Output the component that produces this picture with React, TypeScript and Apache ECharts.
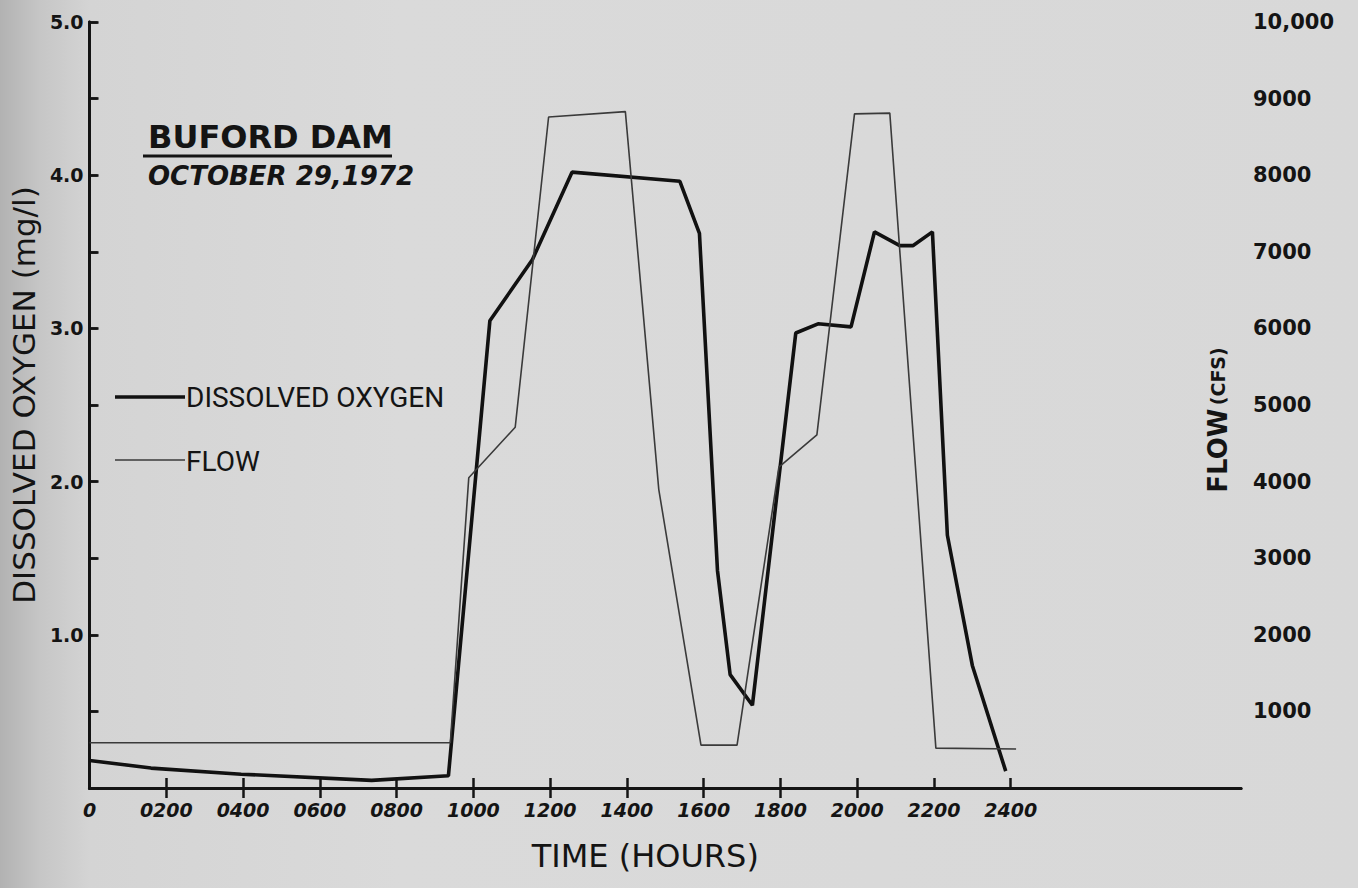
import React, { useEffect, useRef } from 'react';
import * as echarts from 'echarts';

// Time of day (hours, hhmm scale) and dissolved oxygen (mg/l)
const doHours = [0, 160, 395, 735, 935, 1043, 1154, 1257, 1538, 1589, 1636, 1669, 1727, 1840, 1898, 1984, 2045, 2111, 2145, 2196, 2235, 2300, 2387];
const doValues = [0.18, 0.13, 0.09, 0.05, 0.08, 3.05, 3.45, 4.02, 3.96, 3.62, 1.42, 0.74, 0.54, 2.97, 3.03, 3.01, 3.63, 3.54, 3.54, 3.63, 1.65, 0.8, 0.11];

// Time of day and flow (cfs)
const flowHours = [0, 940, 988, 1109, 1196, 1396, 1483, 1593, 1687, 1796, 1895, 1993, 2085, 2205, 2414];
const flowValues = [590, 590, 4050, 4710, 8760, 8830, 3900, 560, 560, 4190, 4610, 8800, 8810, 520, 510];

// Axis ticks / labels
const xLabelValues = [0, 200, 400, 600, 800, 1000, 1200, 1400, 1600, 1800, 2000, 2200, 2400];
const xBottomTicks = [200, 400, 600, 800, 1000, 1200, 1400, 1600, 1800, 2000, 2200, 2400];
const xTopTicks = [200, 400, 600, 800, 1000, 1200, 1400, 1600, 1800, 2000];
const doLabelValues = [1, 2, 3, 4, 5];
const flowLabelValues = [1000, 2000, 3000, 4000, 5000, 6000, 7000, 8000, 9000, 10000];

const INK = '#141414';
const W = 1358;
const H = 888;
const DO_WIDTH = 3.6;
const FLOW_WIDTH = 1.6;

export default function App() {
  const ref = useRef<HTMLDivElement>(null);
  useEffect(() => {
    if (!ref.current) return;
    const chart = echarts.init(ref.current, null, { renderer: 'svg', width: W, height: H });
    const axisLine = { show: true, lineStyle: { color: INK, width: 3 } };
    chart.setOption({
      animation: false,
      textStyle: { fontFamily: 'DejaVu Sans', color: INK },
      grid: { left: 89, right: 117, top: 22, bottom: 100 },
      title: {
        text: 'BUFORD DAM',
        subtext: 'OCTOBER 29,1972',
        left: 143,
        top: 116,
        itemGap: 10,
        textStyle: { fontSize: 32, fontWeight: 'bold', color: INK, fontFamily: 'DejaVu Sans' },
        subtextStyle: { fontSize: 26, fontWeight: 'bold', fontStyle: 'italic', color: INK, fontFamily: 'DejaVu Sans' },
      },
      legend: {
        left: 108,
        top: 378,
        orient: 'vertical',
        icon: 'none',
        itemWidth: 68,
        itemHeight: 24,
        itemGap: 36,
        textStyle: { fontSize: 28, fontFamily: 'Roboto', color: INK },
        data: ['DISSOLVED OXYGEN', 'FLOW'],
      },
      graphic: [
        { type: 'line', shape: { x1: 143, y1: 156, x2: 392, y2: 156 }, style: { stroke: INK, lineWidth: 3 } },
        { type: 'line', shape: { x1: 115, y1: 397, x2: 185, y2: 397 }, style: { stroke: '#111', lineWidth: DO_WIDTH } },
        { type: 'line', shape: { x1: 115, y1: 460, x2: 185, y2: 460 }, style: { stroke: '#3a3a3a', lineWidth: FLOW_WIDTH } },
        {
          type: 'text', x: 1218, y: 420, rotation: Math.PI / 2,
          style: {
            text: '{a|FLOW} {b|(CFS)}', align: 'center', verticalAlign: 'middle', fill: INK,
            rich: {
              a: { fontSize: 26, fontWeight: 'bold', fontFamily: 'DejaVu Sans', fill: INK, verticalAlign: 'middle' },
              b: { fontSize: 19, fontWeight: 'bold', fontFamily: 'DejaVu Sans', fill: INK, verticalAlign: 'middle' },
            },
          },
        },
      ],
      xAxis: [
        {
          type: 'value', position: 'bottom', min: 0, max: 3000, interval: 200,
          axisLine,
          axisTick: { show: true, inside: true, length: 10, customValues: xBottomTicks, lineStyle: { color: INK, width: 2.5 } },
          axisLabel: {
            customValues: xLabelValues,
            formatter: (v: number) => (v === 0 ? '0' : String(v).padStart(4, '0')),
            fontSize: 19, fontWeight: 'bold', fontStyle: 'italic', color: INK, margin: 12,
          },
          splitLine: { show: false },
          name: 'TIME (HOURS)', nameLocation: 'middle', nameGap: 52,
          nameTextStyle: { fontSize: 32, color: INK, padding: [0, 40, 0, 0] },
        },
        {
          type: 'value', position: 'top', min: 0, max: 3000, interval: 200,
          axisLine,
          axisTick: { show: true, inside: true, length: 10, customValues: xTopTicks, lineStyle: { color: INK, width: 2.5 } },
          axisLabel: { show: false },
          splitLine: { show: false },
        },
      ],
      yAxis: [
        {
          type: 'value', position: 'left', min: 0, max: 5, interval: 0.5,
          axisLine,
          axisTick: { show: true, inside: true, length: 9, lineStyle: { color: INK, width: 2.5 } },
          axisLabel: {
            customValues: doLabelValues,
            formatter: (v: number) => v.toFixed(1),
            fontSize: 19, fontWeight: 'bold', color: INK, margin: 6,
          },
          splitLine: { show: false },
          name: 'DISSOLVED OXYGEN (mg/l)', nameLocation: 'middle', nameRotate: 90, nameGap: 50,
          nameTextStyle: { fontSize: 31, color: INK, padding: [0, 0, 0, 20] },
        },
        {
          type: 'value', position: 'right', min: 0, max: 10000, interval: 1000,
          axisLine,
          axisTick: { show: true, inside: false, length: 8, lineStyle: { color: INK, width: 2.5 } },
          axisLabel: {
            customValues: flowLabelValues,
            formatter: (v: number) => (v === 10000 ? '10,000' : String(v)),
            fontSize: 21, fontWeight: 'bold', color: INK, margin: 12,
          },
          splitLine: { show: false },
        },
      ],
      series: [
        {
          name: 'DISSOLVED OXYGEN', type: 'line', xAxisIndex: 0, yAxisIndex: 0,
          data: doHours.map((h, i) => [h, doValues[i]]),
          symbol: 'none', lineStyle: { color: '#111', width: DO_WIDTH }, itemStyle: { color: '#111' },
        },
        {
          name: 'FLOW', type: 'line', xAxisIndex: 0, yAxisIndex: 1,
          data: flowHours.map((h, i) => [h, flowValues[i]]),
          symbol: 'none', lineStyle: { color: '#3a3a3a', width: FLOW_WIDTH }, itemStyle: { color: '#3a3a3a' },
        },
      ],
    });
    return () => chart.dispose();
  }, []);
  return (
    <div
      ref={ref}
      style={{
        position: 'fixed', left: 0, top: 0, width: W, height: H,
        background: 'linear-gradient(to right, #b2b2b2 0px, #c6c6c6 40px, #d4d4d4 90px, #dadada 400px, #d8d8d8 100%)',
      }}
    />
  );
}
